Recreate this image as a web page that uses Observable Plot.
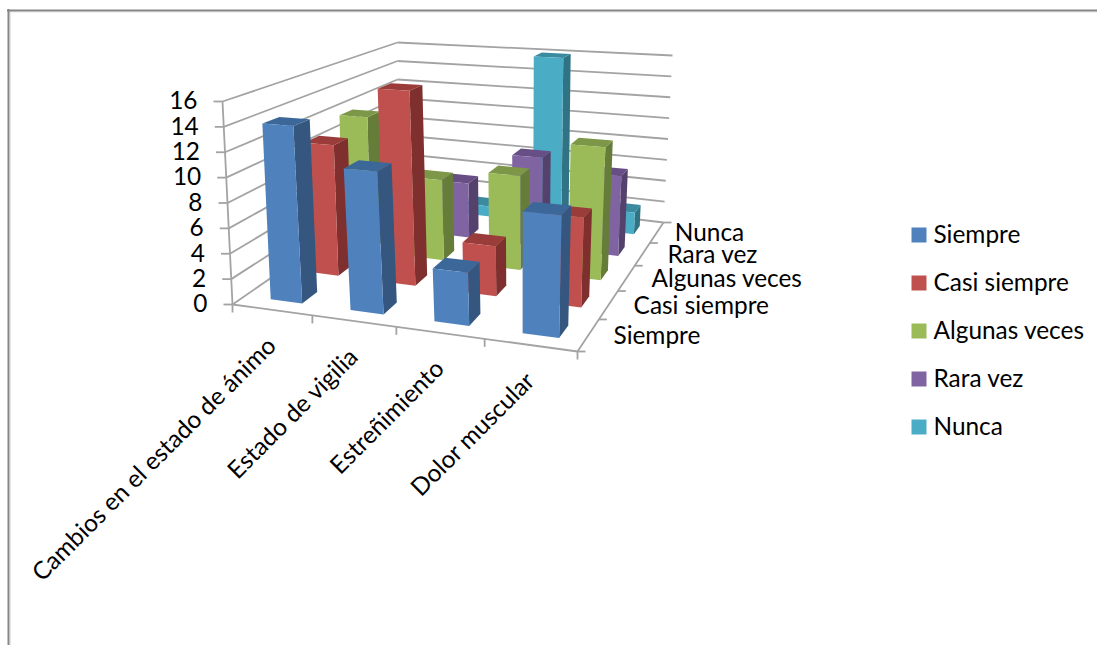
<!DOCTYPE html>
<html lang="es">
<head>
<meta charset="utf-8">
<script src="https://cdn.jsdelivr.net/npm/d3@7"></script>
<script src="https://cdn.jsdelivr.net/npm/@observablehq/plot@0.6"></script>
<style>
  html, body { margin: 0; padding: 0; background: #fff; }
  svg { display: block; }
</style>
</head>
<body>
<div id="chart"></div>
<script>
// Survey answers per symptom
const categories = ["Cambios en el estado de ánimo", "Estado de vigilia", "Estreñimiento", "Dolor muscular"];
const series = ["Siempre", "Casi siempre", "Algunas veces", "Rara vez", "Nunca"];
const siempre = [14, 11, 4, 9];
const casiSiempre = [11, 16, 4, 7];
const algunasVeces = [12, 7, 8, 11];
const raraVez = [0, 5, 8, 7];
const nunca = [0, 1, 16, 2];
const valuesBySeries = [siempre, casiSiempre, algunasVeces, raraVez, nunca];
const valueTicks = [0, 2, 4, 6, 8, 10, 12, 14, 16];

// Face colours per series
const frontColors = ["#4f81bd", "#c0504d", "#9bbb59", "#8064a2", "#4bacc6"];
const sideColors = ["#34567f", "#7f2f2d", "#667d3a", "#54416c", "#2f7385"];
const topColors = ["#3c6899", "#9a3c39", "#7c9748", "#674f85", "#3b8ba0"];

// Camera: the box's floor and ceiling on the page, each a perspective quad
const floorQuad = [[232, 304], [577, 351], [663, 222], [397, 190]];
const ceilingQuad = [[222, 101], [584, 127], [672, 55], [397, 42]];
const foreshortening = 0.06;
const maxValue = 16;
const barStartU = 0.33, barEndU = 0.73, barStartV = 0.3, barEndV = 0.7;
const seriesLabelShift = [25, 25, 25, 25, 18];

// Maps the unit square onto a quad given as front-left, front-right, back-right, back-left
function quadMap([[x0, y0], [x1, y1], [x2, y2], [x3, y3]]) {
  const dx1 = x1 - x2, dx2 = x3 - x2, sx = x0 - x1 + x2 - x3;
  const dy1 = y1 - y2, dy2 = y3 - y2, sy = y0 - y1 + y2 - y3;
  const den = dx1 * dy2 - dx2 * dy1;
  const g = (sx * dy2 - dx2 * sy) / den, h = (dx1 * sy - sx * dy1) / den;
  const a = x1 - x0 + g * x1, b = x3 - x0 + h * x3;
  const d = y1 - y0 + g * y1, e = y3 - y0 + h * y3;
  return (U, V) => {
    const w = g * U + h * V + 1;
    return [(a * U + b * V + x0) / w, (d * U + e * V + y0) / w];
  };
}
const floorMap = quadMap(floorQuad), ceilingMap = quadMap(ceilingQuad);

// u: categories, v: series (0 is the front row), value: height
function project(u, v, value) {
  const r = u / categories.length;
  const U = r - foreshortening * r * (1 - r), V = v / series.length, T = value / maxValue;
  const [xa, ya] = floorMap(U, V), [xb, yb] = ceilingMap(U, V);
  return [xa + (xb - xa) * T, ya + (yb - ya) * T];
}

// Polygons of every bar, painted from the back row to the front and left to right
const faces = [];
let faceId = 0;
function addFace(corners, fill) {
  const id = faceId++;
  for (const [u, v, value] of corners) {
    const [x, y] = project(u, v, value);
    faces.push({id, x, y, fill});
  }
}
for (let s = series.length - 1; s >= 0; --s) {
  categories.forEach((_, k) => {
    const value = valuesBySeries[s][k];
    const u0 = k + barStartU, u1 = k + barEndU, v0 = s + barStartV, v1 = s + barEndV;
    addFace([[u1, v0, 0], [u1, v1, 0], [u1, v1, value], [u1, v0, value]], sideColors[s]);
    addFace([[u0, v0, value], [u1, v0, value], [u1, v1, value], [u0, v1, value]], topColors[s]);
    addFace([[u0, v0, 0], [u1, v0, 0], [u1, v0, value], [u0, v0, value]], frontColors[s]);
  });
}

// Wall gridlines, floor edges and tick marks
const segments = [];
function addSegment(a, b) { segments.push({x1: a[0], y1: a[1], x2: b[0], y2: b[1]}); }
const nCat = categories.length, nSer = series.length;
for (const t of valueTicks) {
  const front = project(0, 0, t), back = project(0, nSer, t), right = project(nCat, nSer, t);
  addSegment(front, back);
  addSegment(back, right);
  addSegment([front[0] - 9, front[1]], front);
}
addSegment(project(0, 0, 0), project(0, 0, maxValue));
addSegment(project(0, 0, 0), project(nCat, 0, 0));
addSegment(project(nCat, 0, 0), project(nCat, nSer, 0));
for (let k = 0; k <= nCat; ++k) {
  const pt = project(k, 0, 0);
  addSegment(pt, [pt[0], pt[1] + 8]);
}
for (let s = 0; s <= nSer; ++s) {
  const pt = project(nCat, s, 0);
  addSegment(pt, [pt[0] + 8, pt[1]]);
}

const valueLabels = valueTicks.map((t) => {
  const [x, y] = project(0, 0, t);
  return {text: String(t), x: x - 25, y};
});
const categoryLabels = categories.map((text, k) => {
  const [x, y] = project(k + 0.5, 0, 0);
  return {text, x: x, y: y + 32};
});
const seriesLabels = series.map((text, s) => {
  const [x, y] = project(nCat, s + 0.5, 0);
  return {text, x: x + seriesLabelShift[s], y: y + 1};
});
const legendItems = series.map((text, s) => ({text, fill: frontColors[s], y: 234.5 + 48 * s}));

const font = "Lato, Carlito, Calibri, sans-serif";
const labelSize = 24.4;

const chart = Plot.plot({
  width: 1097,
  height: 645,
  margin: 0,
  style: {background: "#fff", fontFamily: font},
  x: {domain: [0, 1097], range: [0, 1097], axis: null},
  y: {domain: [0, 645], range: [0, 645], axis: null},
  color: {type: "identity"},
  marks: [
    // Outer chart frame with its soft inner edge
    Plot.ruleX([10], {y1: 11, y2: 645, stroke: "#e6e6e6", strokeWidth: 1}),
    Plot.ruleY([11.5], {x1: 9, x2: 1097, stroke: "#e6e6e6", strokeWidth: 1}),
    Plot.ruleX([8], {y1: 9, y2: 645, stroke: "#868686", strokeWidth: 2}),
    Plot.ruleY([10], {x1: 7, x2: 1097, stroke: "#868686", strokeWidth: 2}),
    Plot.link(segments, {x1: "x1", y1: "y1", x2: "x2", y2: "y2", stroke: "#a3a3a3", strokeWidth: 1.8}),
    Plot.line(faces, {x: "x", y: "y", z: "id", fill: "fill", stroke: "none", curve: "linear-closed"}),
    Plot.text(valueLabels, {x: "x", y: "y", text: "text", textAnchor: "end", fontSize: labelSize, fill: "#000"}),
    Plot.text(seriesLabels, {x: "x", y: "y", text: "text", textAnchor: "start", fontSize: labelSize, fill: "#000"}),
    Plot.text(categoryLabels, {x: "x", y: "y", text: "text", textAnchor: "end", rotate: -45, fontSize: labelSize, fill: "#000"}),
    // Legend
    Plot.dot(legendItems, {x: () => 918.5, y: "y", symbol: "square", r: 8.46, fill: "fill", stroke: "none"}),
    Plot.text(legendItems, {x: () => 933, y: "y", text: "text", textAnchor: "start", fontSize: labelSize, fill: "#000"})
  ]
});
document.getElementById("chart").append(chart);
</script>
</body>
</html>
